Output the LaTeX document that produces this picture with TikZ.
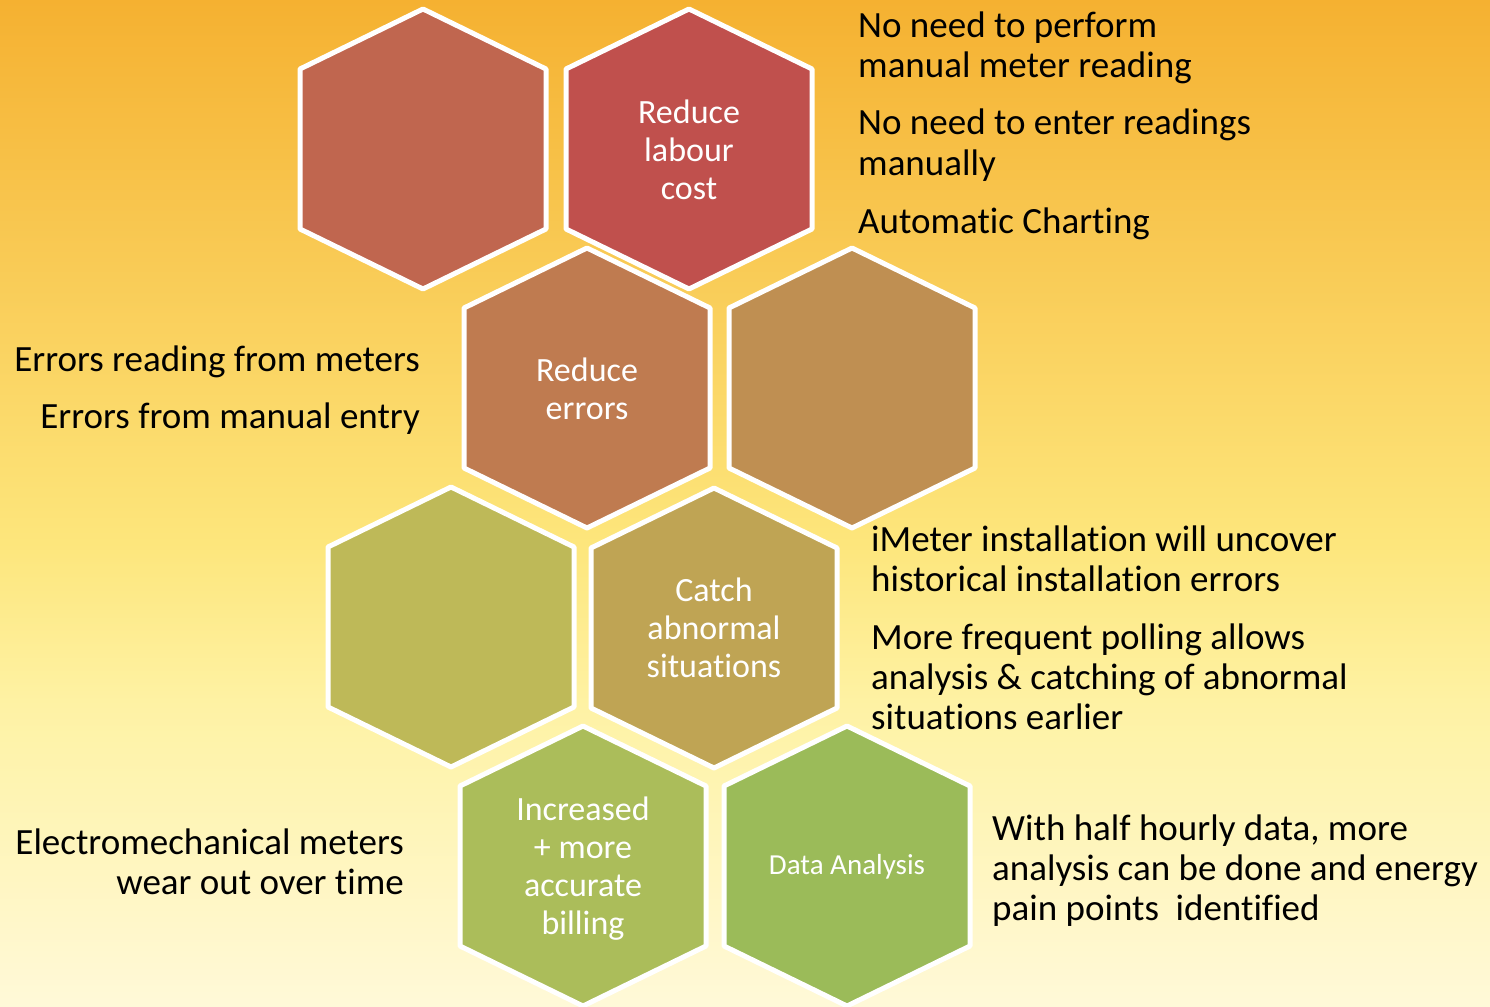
\documentclass[tikz,border=0pt]{standalone}
\usepackage{fontspec}
\setmainfont{Carlito}[Ligatures=NoCommon]
\usepackage{tikz}

\definecolor{bgtop}{HTML}{F5B131}
\definecolor{bgmid}{HTML}{FDE67C}
\definecolor{bglow}{HTML}{FEF2A4}
\definecolor{bgbot}{HTML}{FFF9D8}
\definecolor{hexA}{HTML}{C0664F}
\definecolor{hexB}{HTML}{C0504D}
\definecolor{hexC}{HTML}{BF7B50}
\definecolor{hexD}{HTML}{BF8F52}
\definecolor{hexE}{HTML}{BEB958}
\definecolor{hexF}{HTML}{BFA454}
\definecolor{hexG}{HTML}{ABBD5A}
\definecolor{hexH}{HTML}{9BBB59}

% orange at the top fading to pale cream at the bottom
\pgfdeclareverticalshading{honeybg}{100bp}{color(0bp)=(bgbot); color(25bp)=(bgbot);
  color(40bp)=(bglow); color(48bp)=(bgmid); color(75bp)=(bgtop); color(100bp)=(bgtop)}

\begin{document}
\begin{tikzpicture}[x=1pt,y=-1pt,
                every node/.style={inner sep=0pt},
                hexcell/.style={draw=white,line width=5pt,line join=round},
                hexcap/.style={text=white,align=center,font=\fontsize{34}{38}\selectfont},
                note/.style={anchor=base west,align=left,font=\fontsize{37}{40}\selectfont},
                noteR/.style={anchor=base east,align=right,font=\fontsize{37}{40}\selectfont}]
  \useasboundingbox (0,0) rectangle (1490,1006);
  \shade[shading=honeybg] (0,0) rectangle (1490,1006);

  % honeycomb, row by row
  \foreach \cx/\cy/\col in {423/149/hexA, 689/149/hexB, 587/388/hexC, 852/388/hexD,
                            451/627/hexE, 714/628/hexF, 583/866/hexG, 847/866/hexH}
    \fill[hexcell,fill=\col] (\cx,\cy) ++(0,-140) -- ++(123,60) -- ++(0,160)
      -- ++(-123,60) -- ++(-123,-60) -- ++(0,-160) -- cycle;

  \node[hexcap] (labour)   at (689,150) {Reduce\\labour\\cost};
  \node[hexcap] (errors)   at (587,389) {Reduce\\errors};
  \node[hexcap] (abnormal) at (714,628) {Catch\\abnormal\\situations};
  \node[hexcap] (billing)  at (583,869) {Increased\\+ more\\accurate\\billing};
  \node[hexcap,font=\fontsize{29}{34}\selectfont] (analysis) at (847,867) {Data Analysis};

  % notes beside the cells (base = last line)
  \node[note]  (noread)   at (858,78)  {No need to perform\\manual meter reading};
  \node[note]  (noentry)  at (858,175) {No need to enter readings\\manually};
  \node[note]  (charting) at (858,233) {Automatic Charting};
  \node[noteR] (readerr)  at (420,371) {Errors reading from meters};
  \node[noteR] (entryerr) at (420,428) {Errors from manual entry};
  \node[note]  (install)  at (871,591) {iMeter installation will uncover\\historical installation errors};
  \node[note]  (polling)  at (871,729) {More frequent polling allows\\analysis \& catching of abnormal\\situations earlier};
  \node[noteR] (wearout)  at (404,894) {Electromechanical meters\\wear out over time};
  \node[note]  (halfhour) at (992,920) {With half hourly data, more\\analysis can be done and energy\\pain points~ identified};
\end{tikzpicture}
\end{document}
